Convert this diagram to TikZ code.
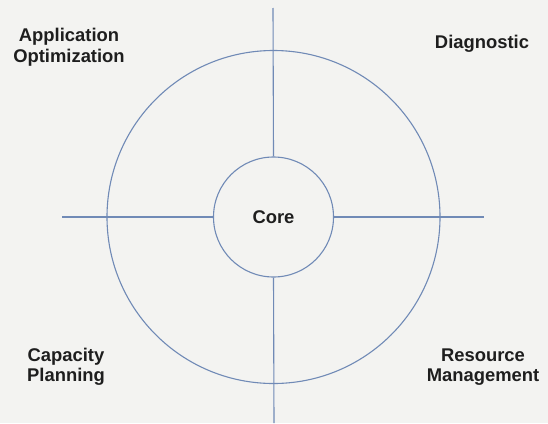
\documentclass[tikz,border=0pt]{standalone}
\usepackage{fontspec}
\setmainfont{Liberation Sans}
\definecolor{bg}{RGB}{243,243,241}
\definecolor{ln}{RGB}{112,138,182}
\definecolor{tx}{RGB}{30,30,30}
\begin{document}
\begin{tikzpicture}[x=1pt,y=-1pt,
  axis/.style={draw=ln,line width=1.1pt},
  lbl/.style={font=\fontsize{18.4}{20.5}\selectfont\bfseries,text=tx,align=center,inner sep=0pt}]
\fill[bg] (0,0) rectangle (548,423);
\useasboundingbox (0,0) rectangle (548,423);
\node[circle,draw=ln,line width=1.1pt,minimum size=120pt,inner sep=0pt] (core) at (273.5,217) {};
\node[lbl] (coret) at (273.5,217) {Core};
\node[circle,draw=ln,line width=1.1pt,minimum size=333pt,inner sep=0pt] (outer) at (273.5,217) {};
\coordinate (top) at (273,8);
\coordinate (bot) at (274,423);
\coordinate (lft) at (62,217);
\coordinate (rgt) at (484,217);
\draw[axis] (top) -- (core.north);
\draw[axis] (core.south) -- (bot);
\draw[axis] (lft) -- (core.west);
\draw[axis] (core.east) -- (rgt);
\node[lbl] (app) at (69,47) {Application\\Optimization};
\node[lbl] (diag) at (482,44) {Diagnostic};
\node[lbl] (cap) at (66,367) {Capacity\\Planning};
\node[lbl] (res) at (483,367) {Resource\\Management};
\end{tikzpicture}
\end{document}
